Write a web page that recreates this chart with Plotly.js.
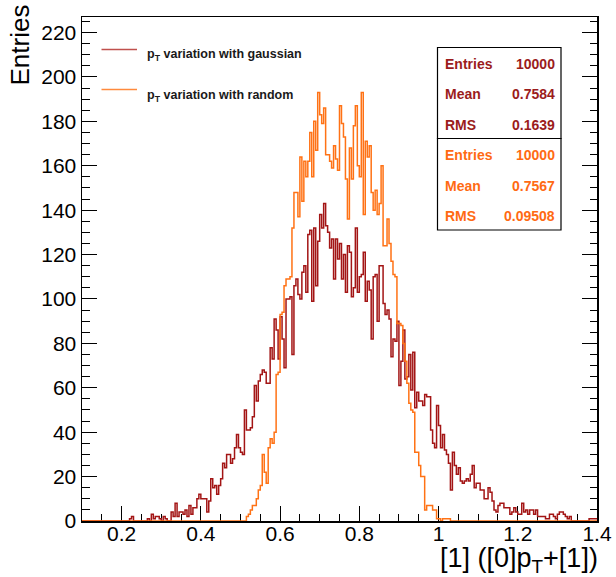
<!DOCTYPE html>
<html><head><meta charset="utf-8">
<script src="https://cdn.plot.ly/plotly-3.0.1.min.js"></script>
<style>html,body{margin:0;padding:0;background:#fff}#chart{width:616px;height:577px}</style>
</head><body><div id="chart"></div>
<script>
// Histogram binning (axis of the histogram)
const xMin = 0.1;
const binWidth = 0.005;

// Bin contents, 260 bins from 0.1 to 1.4
const gaussCounts = [
 0,0,0,0,0,0,0,0,0,0,
 0,0,0,0,0,0,0,0,0,0,
 0,0,0,0,1,2,0,0,0,0,
 0,0,0,1,0,3,1,2,2,1,
 0,2,1,0,0,4,2,8,2,4,
 4,3,5,2,7,3,6,6,10,12,
 10,10,10,4,9,19,15,16,12,16,
 19,26,24,30,30,26,28,33,39,33,
 31,30,50,41,41,42,47,61,54,63,
 66,68,67,62,62,78,73,91,86,73,
 92,82,69,100,100,101,75,106,109,102,
 100,112,115,103,129,131,99,132,106,126,
 138,132,143,133,130,123,127,109,127,118,
 125,109,120,103,124,121,101,105,132,103,
 110,111,121,99,108,104,82,110,111,90,
 115,115,98,93,95,91,74,82,81,90,
 61,72,86,64,65,75,59,76,51,58,
 54,54,52,57,56,56,41,35,33,52,
 43,33,39,32,30,26,14,31,25,21,
 24,18,17,18,19,18,21,25,15,17,
 17,14,14,10,10,15,13,9,5,4,
 7,8,8,6,6,6,3,4,6,4,
 3,3,8,4,5,3,5,5,3,5,
 2,2,2,2,1,1,3,3,2,1,
 3,4,4,3,2,1,2,0,0,0,
 0,0,0,0,0,0,1,1,1,1
];
const randomCounts = [
 0,0,0,0,0,0,0,0,0,0,
 0,0,0,0,0,0,0,0,0,0,
 0,0,0,0,0,0,0,0,0,0,
 0,0,0,0,0,0,0,0,0,0,
 0,0,0,0,0,0,0,0,0,0,
 0,0,0,0,0,0,0,0,0,0,
 0,0,0,0,0,0,0,0,0,0,
 0,0,0,0,0,0,0,0,0,0,
 0,0,0,2,3,5,7,7,10,14,
 16,30,22,17,33,37,35,40,66,67,
 93,94,106,109,109,110,132,148,148,137,
 164,144,162,155,162,175,155,180,167,193,
 183,179,186,165,165,162,159,169,163,158,
 187,179,173,154,136,168,154,178,187,160,
 155,193,138,171,164,169,148,140,149,138,
 143,160,124,124,136,125,117,111,110,89,
 89,88,80,72,62,53,50,49,31,31,
 25,20,20,5,7,7,7,5,5,1,
 1,0,1,1,1,1,0,0,0,0,
 0,0,0,0,0,0,0,0,0,0,
 0,0,0,0,0,0,0,0,0,0,
 0,0,0,0,0,0,0,0,0,0,
 0,0,0,0,0,0,0,0,0,0,
 0,0,0,0,0,0,0,0,0,0,
 0,0,0,0,0,0,0,0,0,0,
 0,0,0,0,0,0,0,0,0,0
];

const seriesNames = ['p<sub>T</sub> variation with gaussian', 'p<sub>T</sub> variation with random'];
const xTickVals = [0.2, 0.4, 0.6, 0.8, 1.0, 1.2, 1.4];
const xTickText = ['0.2', '0.4', '0.6', '0.8', '1', '1.2', '1.4'];
const yTickVals = [0, 20, 40, 60, 80, 100, 120, 140, 160, 180, 200, 220];
const statLabels = ['Entries', 'Mean', 'RMS'];
const gaussStats = ['10000', '0.7584', '0.1639'];
const randomStats = ['10000', '0.7567', '0.09508'];
const xTitle = '[1] ([0]p<sub>T</sub>+[1])';
const yTitle = 'Entries';

// ---- styling / layout ----
const W = 616, H = 577;
const L = 82, R = 19, T = 17, B = 56;
const PW = W - L - R, PH = H - T - B;
const px = x => (x - L) / PW;
const py = y => (H - B - y) / PH;
const FONT = 'Liberation Sans, Arial, Helvetica, sans-serif';
const gaussColor = '#a31515';
const randomColor = '#ff7215';
const gaussText = '#9b1c1c';
const randomText = '#ff6a13';

function steps(counts) {
  const x = [], y = [];
  counts.forEach((c, i) => { x.push(xMin + i * binWidth); y.push(c); });
  x.push(xMin + counts.length * binWidth); y.push(counts[counts.length - 1]);
  return {x, y};
}
const g = steps(gaussCounts), r = steps(randomCounts);

const traces = [
  {type: 'scatter', mode: 'lines', x: g.x, y: g.y, name: seriesNames[0],
   line: {shape: 'hv', color: gaussColor, width: 1.5}, hoverinfo: 'skip'},
  {type: 'scatter', mode: 'lines', x: r.x, y: r.y, name: seriesNames[1],
   line: {shape: 'hv', color: randomColor, width: 1.5}, hoverinfo: 'skip'}
];

const shapes = [
  // legend samples
  {type: 'line', xref: 'paper', yref: 'paper', x0: px(101.5), x1: px(137), y0: py(49.5), y1: py(49.5), line: {color: '#c0504d', width: 1.5}},
  {type: 'line', xref: 'paper', yref: 'paper', x0: px(101.5), x1: px(137), y0: py(89.5), y1: py(89.5), line: {color: '#ff8a3d', width: 1.5}},
  // stats boxes
  {type: 'rect', xref: 'paper', yref: 'paper', x0: px(437.5), x1: px(561), y0: py(47.5), y1: py(138.5), fillcolor: '#ffffff', line: {color: '#000', width: 1.2}},
  {type: 'rect', xref: 'paper', yref: 'paper', x0: px(437.5), x1: px(561), y0: py(138.5), y1: py(230), fillcolor: '#ffffff', line: {color: '#000', width: 1.2}}
];

const annotations = [];
const legY = [55.5, 95.5];
seriesNames.forEach((s, i) => annotations.push({
  xref: 'paper', yref: 'paper', x: px(145), y: py(legY[i]), xanchor: 'left', yanchor: 'middle',
  text: s, showarrow: false, font: {family: FONT, size: 12.5, color: '#1a1a1a', weight: 700}
}));
const statY = [[64, 94.3, 125], [155, 185.7, 215.7]];
[[gaussStats, gaussText], [randomStats, randomText]].forEach(([vals, col], k) => {
  statLabels.forEach((lab, i) => {
    annotations.push({xref: 'paper', yref: 'paper', x: px(443), y: py(statY[k][i]), xanchor: 'left', yanchor: 'middle',
      text: lab, showarrow: false, font: {family: FONT, size: 14, color: col, weight: 700}});
    annotations.push({xref: 'paper', yref: 'paper', x: px(557), y: py(statY[k][i]), xanchor: 'right', yanchor: 'middle',
      text: vals[i], showarrow: false, font: {family: FONT, size: 14, color: col, weight: 700}});
  });
});
// axis titles (ROOT style: aligned to the axis ends)
annotations.push({xref: 'paper', yref: 'paper', x: px(599), y: py(560), xanchor: 'right', yanchor: 'middle',
  text: xTitle, showarrow: false, borderpad: 0, font: {family: FONT, size: 27, color: '#000'}});
annotations.push({xref: 'paper', yref: 'paper', x: px(19), y: py(3), xanchor: 'center', yanchor: 'top', textangle: -90,
  text: yTitle, showarrow: false, font: {family: FONT, size: 26, color: '#000'}});

const axisCommon = {
  showgrid: false, zeroline: false, showline: true, linecolor: '#000', linewidth: 1.5,
  ticks: 'inside', ticklen: 15, tickwidth: 1, tickcolor: '#000',
  tickfont: {family: FONT, size: 21, color: '#000'}, layer: 'below traces', fixedrange: true
};

const layout = {
  width: W, height: H,
  margin: {l: L, r: R, t: T, b: B, pad: 0},
  paper_bgcolor: '#fff', plot_bgcolor: '#fff',
  showlegend: false,
  xaxis: Object.assign({}, axisCommon, {
    range: [0.1, 1.4], mirror: true, tickmode: 'array', tickvals: xTickVals, ticktext: xTickText,
    ticklabelstandoff: -7,
    minor: {tickmode: 'linear', tick0: 0.1, dtick: 0.05, ticks: 'inside', ticklen: 7.5, tickwidth: 1, tickcolor: '#000'}
  }),
  yaxis: Object.assign({}, axisCommon, {
    range: [0, 227], mirror: 'ticks', tickmode: 'array', tickvals: yTickVals,
    minor: {tickmode: 'linear', tick0: 0, dtick: 5, ticks: 'inside', ticklen: 7.5, tickwidth: 1, tickcolor: '#000'}
  }),
  shapes: shapes,
  annotations: annotations
};

Plotly.newPlot('chart', traces, layout, {staticPlot: true, displayModeBar: false});
</script>
</body></html>
